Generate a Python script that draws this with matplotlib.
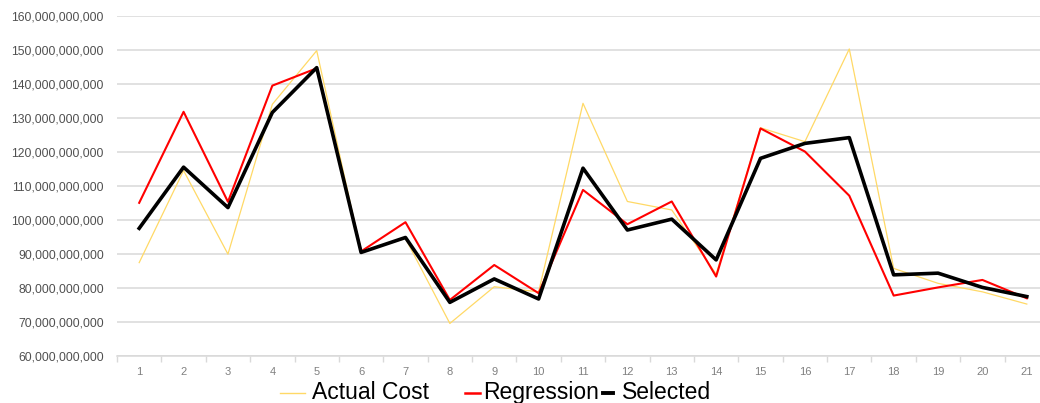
import matplotlib
matplotlib.use("Agg")
import matplotlib.pyplot as plt
from matplotlib.lines import Line2D
from matplotlib.ticker import FuncFormatter, MultipleLocator
import numpy as np

periods = list(range(1, 22))
# values in billions
actual_cost = [87.4, 114.5, 89.9, 134.0, 149.8, 90.5, 94.5, 69.5, 80.3, 78.8, 134.3,
               105.4, 102.9, 84.0, 127.1, 123.0, 150.3, 85.7, 81.3, 78.8, 75.2]
regression = [105.0, 131.8, 105.3, 139.5, 144.6, 90.7, 99.3, 76.4, 86.7, 78.4, 108.8,
              98.7, 105.4, 83.3, 126.9, 120.1, 107.1, 77.7, 80.1, 82.3, 76.9]
selected = [97.5, 115.5, 103.6, 131.6, 144.8, 90.4, 94.8, 75.7, 82.6, 76.7, 115.2,
            97.0, 100.2, 88.2, 118.1, 122.5, 124.2, 83.8, 84.3, 80.1, 77.4]
series_names = ["Actual Cost", "Regression", "Selected"]

SCALE = 1e9
W, H = 1040, 403
fig = plt.figure(figsize=(W / 100, H / 100), dpi=100)
ax = fig.add_axes([117 / W, 1 - 355.7 / H, (1049 - 117) / W, (355.7 - 16) / H])

x = np.array(periods)
ax.plot(x, np.array(actual_cost) * SCALE, color="#FFD966", lw=0.9, zorder=3)
ax.plot(x, np.array(regression) * SCALE, color="#FF0000", lw=1.5, zorder=4)
ax.plot(x, np.array(selected) * SCALE, color="#000000", lw=2.6, zorder=5)

ax.set_xlim(0.5, 21.5)
ax.set_ylim(60e9, 160e9)
ax.yaxis.set_major_locator(MultipleLocator(10e9))
ax.yaxis.set_major_formatter(FuncFormatter(lambda v, p: f"{v:,.0f}"))
ax.grid(axis="y", color="#D9D9D9", lw=1.1, zorder=0)
ax.set_axisbelow(True)
for s in ["top", "right", "left"]:
    ax.spines[s].set_visible(False)
ax.spines["bottom"].set_color("#D9D9D9")
ax.spines["bottom"].set_linewidth(1.1)

ax.set_xticks(periods)
ax.set_xticklabels([str(p) for p in periods])
ax.set_xticks(np.arange(0.5, 22, 1), minor=True)
ax.tick_params(axis="x", which="major", length=0, pad=8, labelsize=8, labelcolor="#808080")
ax.tick_params(axis="x", which="minor", length=4, width=1.0, color="#D9D9D9")
ax.tick_params(axis="y", length=0, pad=9.4, labelsize=8.7, labelcolor="#505050")
for lab in ax.get_yticklabels():
    lab.set_fontfamily("Liberation Sans")
for lab in ax.get_xticklabels():
    lab.set_fontfamily("Liberation Sans")

# legend (manual, mimicking Excel layout)
fy = 1 - 392.5 / H
handles = [(280, 305, "#FFD966", 1.0, 312), (465, 480, "#FF0000", 1.8, 483), (603, 613, "#000000", 2.8, 622)]
for (x0, x1, c, lw, tx), name in zip(handles, series_names):
    fig.add_artist(Line2D([x0 / W, x1 / W], [fy, fy], color=c, lw=lw, transform=fig.transFigure))
    fig.text(tx / W, fy, name, fontsize=16.5, family="Liberation Sans", color="#000000",
             ha="left", va="center")

fig.savefig("out.png", dpi=100)
